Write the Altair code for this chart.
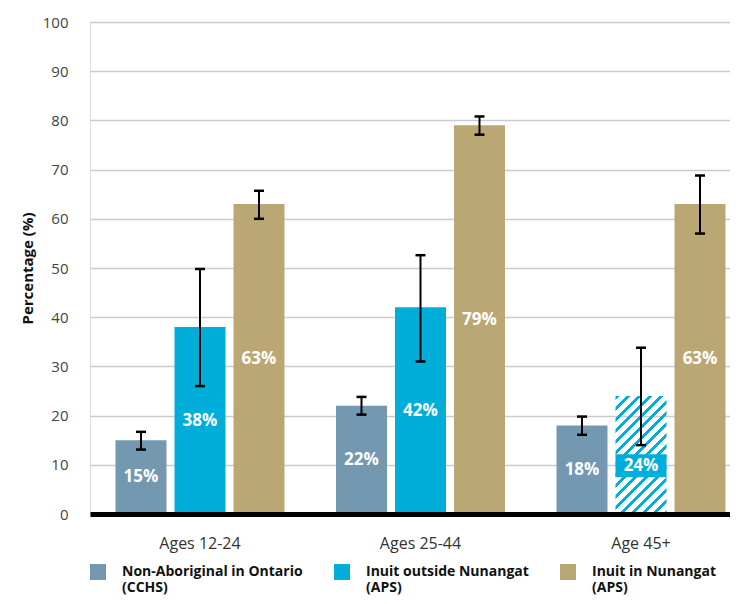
import altair as alt
import pandas as pd

# ---- data ----
groups = ["Ages 12-24", "Ages 25-44", "Age 45+"]
series = [
    "Non-Aboriginal in Ontario (CCHS)",
    "Inuit outside Nunangat (APS)",
    "Inuit in Nunangat (APS)",
]
non_aboriginal = [15, 22, 18]
non_aboriginal_lo = [13.1, 20.2, 16.1]
non_aboriginal_hi = [16.7, 23.8, 19.8]
inuit_outside = [38, 42, 24]
inuit_outside_lo = [26.0, 31.0, 14.0]
inuit_outside_hi = [49.8, 52.6, 33.8]
inuit_inside = [63, 79, 63]
inuit_inside_lo = [60.0, 77.1, 57.0]
inuit_inside_hi = [65.7, 80.8, 68.8]
# the Age 45+ estimate for Inuit outside Nunangat is shown hatched (use with caution)
inuit_outside_hatched = [False, False, True]

colors = ["#7398B0", "#00AED9", "#BBA773"]
FONT = "Open Sans"

vals = [non_aboriginal, inuit_outside, inuit_inside]
los = [non_aboriginal_lo, inuit_outside_lo, inuit_inside_lo]
his = [non_aboriginal_hi, inuit_outside_hi, inuit_inside_hi]
hatch = [[False] * 3, inuit_outside_hatched, [False] * 3]

rows = []
for gi, g in enumerate(groups):
    for si, s in enumerate(series):
        rows.append(dict(group=g, series=s, value=vals[si][gi], lo=los[si][gi],
                         hi=his[si][gi], hatched=hatch[si][gi]))
df = pd.DataFrame(rows)

# ---- layout / style ----
W, H = 640, 492
P_IN, P_OUT, ALIGN = 0.2336, 0.068, 0.85
SUB_PIN = 0.1356
step = W / (3 - P_IN + 2 * P_OUT)
band = step * (1 - P_IN)
sub_step = band / (3 - SUB_PIN)
bar_w = sub_step * (1 - SUB_PIN)

# diagonal stripe gradient for the hatched bar
hv = float(df.loc[df.hatched, "value"].iloc[0])
bw, bh = bar_w, hv * H / 100.0
k = (bw + bh) / (bw ** 2 + bh ** 2)
diag = (bw + bh) / 2 ** 0.5
period, blue_frac = 7.8, 0.36
blue, clear = colors[1], "rgba(0,174,217,0)"
stops = []
i = 0
while i * period < diag:
    a = i * period / diag
    b = min((i * period + period * blue_frac) / diag, 1.0)
    c = min((i + 1) * period / diag, 1.0)
    stops += [{"offset": a, "color": blue}, {"offset": b, "color": blue},
              {"offset": b, "color": clear}, {"offset": c, "color": clear}]
    i += 1
hatch_fill = {"gradient": "linear", "x1": 0, "y1": 0, "x2": k * bw, "y2": k * bh,
              "stops": stops}

x_scale = alt.Scale(domain=groups, paddingInner=P_IN, paddingOuter=P_OUT, align=ALIGN)
xo_scale = alt.Scale(domain=series, paddingInner=SUB_PIN, paddingOuter=0)
y_scale = alt.Scale(domain=[0, 100], nice=False)

x_enc = alt.X("group:N", scale=x_scale, sort=groups, title=None,
              axis=alt.Axis(labelAngle=0, labelFontSize=16, labelColor="#333333",
                            labelFont=FONT, ticks=False, labelPadding=21,
                            domainColor="#000000", domainWidth=5, grid=False, zindex=1))
xo_enc = alt.XOffset("series:N", scale=xo_scale, sort=series)
y_axis = alt.Axis(values=list(range(0, 101, 10)), labelFontSize=15, labelColor="#444444",
                  labelFont=FONT, ticks=False, domain=False, labelPadding=22,
                  gridColor="#cccccc", gridWidth=1.5, titleFontSize=15,
                  titleFontWeight="bold", titleColor="#111111", titleFont=FONT,
                  titleX=-63, titleY=H / 2, titleAngle=-90, titleBaseline="middle",
                  titleAlign="center")

base = alt.Chart(df)

bars = base.transform_filter("!datum.hatched").mark_bar().encode(
    x=x_enc, xOffset=xo_enc,
    y=alt.Y("value:Q", scale=y_scale, axis=y_axis, title="Percentage (%)"),
    color=alt.Color("series:N", scale=alt.Scale(domain=series, range=colors),
                    legend=alt.Legend(
                        title=None, orient="none", legendX=0, legendY=542,
                        direction="horizontal", columns=3, symbolType="square",
                        symbolSize=256, symbolStrokeWidth=0, labelFontSize=14,
                        labelFontWeight="bold", labelColor="#111111", labelFont=FONT,
                        labelLimit=400, labelOffset=16, columnPadding=31,
                        labelBaseline="middle", padding=0,
                        labelExpr="split(replace(datum.label, ' (', '|('), '|')")),
)

hatched = base.transform_filter("datum.hatched").mark_bar(fill=hatch_fill).encode(
    x=x_enc, xOffset=xo_enc, y=alt.Y("value:Q", scale=y_scale))

label_bg = base.transform_filter("datum.hatched").transform_calculate(
    b0="datum.lo * 0.7 - 2.35", b1="datum.lo * 0.7 + 2.35"
).mark_bar(color=colors[1]).encode(
    x=x_enc, xOffset=xo_enc, y=alt.Y("b0:Q", scale=y_scale), y2="b1:Q")

err = base.mark_rule(color="#000000", strokeWidth=2).encode(
    x=x_enc, xOffset=xo_enc, y=alt.Y("lo:Q", scale=y_scale), y2="hi:Q")

caps = base.transform_fold(["lo", "hi"], as_=["end", "v"]).mark_tick(
    color="#000000", thickness=2.5, size=10, opacity=1).encode(
    x=x_enc, xOffset=xo_enc, y=alt.Y("v:Q", scale=y_scale))

labels = base.transform_calculate(
    ly="datum.hatched ? datum.lo * 0.7 : datum.value / 2",
    txt="format(datum.value, 'd') + '%'"
).mark_text(color="#ffffff", fontWeight="bold", fontSize=17, font=FONT,
            baseline="middle").encode(
    x=x_enc, xOffset=xo_enc, y=alt.Y("ly:Q", scale=y_scale), text="txt:N")

chart = alt.layer(bars, hatched, label_bg, err, caps, labels).properties(
    width=W, height=H,
    autosize=alt.AutoSizeParams(type="none"),
    padding={"left": 82, "top": 14, "right": 0, "bottom": 82},
).configure_view(strokeWidth=0).configure(font=FONT)

chart.save("out.html", embed_options={"renderer": "svg", "actions": False})
